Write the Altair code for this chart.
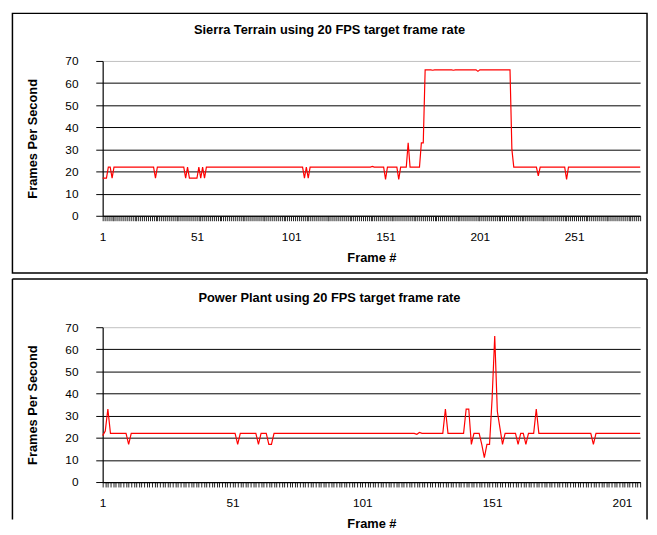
import altair as alt
import pandas as pd

FONT = "Liberation Sans"

sierra_title = "Sierra Terrain using 20 FPS target frame rate"
power_title = "Power Plant using 20 FPS target frame rate"
x_title = "Frame #"
y_title = "Frames Per Second"

fps_ticks = [0, 10, 20, 30, 40, 50, 60, 70]
sierra_labels = [1, 51, 101, 151, 201, 251]
power_labels = [1, 51, 101, 151, 201]

# Sierra Terrain: frames 1..286
sierra_fps = [
    17, 17, 17, 22, 22, 17, 22, 22, 22, 22,
    22, 22, 22, 22, 22, 22, 22, 22, 22, 22,
    22, 22, 22, 22, 22, 22, 22, 22, 17, 22,
    22, 22, 22, 22, 22, 22, 22, 22, 22, 22,
    22, 22, 22, 22, 17, 22, 17, 17, 17, 17,
    17, 22, 17, 22, 17, 22, 22, 22, 22, 22,
    22, 22, 22, 22, 22, 22, 22, 22, 22, 22,
    22, 22, 22, 22, 22, 22, 22, 22, 22, 22,
    22, 22, 22, 22, 22, 22, 22, 22, 22, 22,
    22, 22, 22, 22, 22, 22, 22, 22, 22, 22,
    22, 22, 22, 22, 22, 22, 22, 17, 22, 17,
    22, 22, 22, 22, 22, 22, 22, 22, 22, 22,
    22, 22, 22, 22, 22, 22, 22, 22, 22, 22,
    22, 22, 22, 22, 22, 22, 22, 22, 22, 22,
    22, 22, 22, 22.3, 22, 22, 22, 22, 22, 22,
    16.5, 22, 22, 22, 22, 22, 22, 16.5, 22, 22,
    22, 22, 33, 22, 22, 22, 22, 22, 22, 33,
    33, 66, 66, 66, 66, 65.8, 66, 66, 66, 66,
    66, 66, 66, 66, 66, 66, 65.8, 66, 66, 66,
    66, 66, 66, 66, 66, 66, 66, 66, 66, 65.3,
    66, 66, 66, 66, 66, 66, 66, 66, 66, 66,
    66, 66, 66, 66, 66, 66, 66, 30, 22, 22,
    22, 22, 22, 22, 22, 22, 22, 22, 22, 22,
    22, 18, 22, 22, 22, 22, 22, 22, 22, 22,
    22, 22, 22, 22, 22, 22, 16.5, 22, 22, 22,
    22, 22, 22, 22, 22, 22, 22, 22, 22, 22,
    22, 22, 22, 22, 22, 22, 22, 22, 22, 22,
    22, 22, 22, 22, 22, 22, 22, 22, 22, 22,
    22, 22, 22, 22, 22, 22,
]

# Power Plant: frames 1..208
power_fps = [
    21, 23, 33, 22, 22, 22, 22, 22, 22, 22,
    17, 22, 22, 22, 22, 22, 22, 22, 22, 22,
    22, 22, 22, 22, 22, 22, 22, 22, 22, 22,
    22, 22, 22, 22, 22, 22, 22, 22, 22, 22,
    22, 22, 22, 22, 22, 22, 22, 22, 22, 22,
    22, 22, 17, 22, 22, 22, 22, 22, 22, 22,
    17, 22, 22, 22, 17, 17, 22, 22, 22, 22,
    22, 22, 22, 22, 22, 22, 22, 22, 22, 22,
    22, 22, 22, 22, 22, 22, 22, 22, 22, 22,
    22, 22, 22, 22, 22, 22, 22, 22, 22, 22,
    22, 22, 22, 22, 22, 22, 22, 22, 22, 22,
    22, 22, 22, 22, 22, 22, 22, 22, 22, 22,
    22, 21.6, 22.4, 22, 22, 22, 22, 22, 22, 22,
    22, 22, 33, 22, 22, 22, 22, 22, 22, 22,
    33, 33, 17, 22, 22, 22, 17, 11, 17, 17,
    38, 66, 32, 24.5, 17, 22, 22, 22, 22, 22,
    17, 22, 22, 17, 22, 22, 22, 33, 22, 22,
    22, 22, 22, 22, 22, 22, 22, 22, 22, 22,
    22, 22, 22, 22, 22, 22, 22, 22, 22, 17,
    22, 22, 22, 22, 22, 22, 22, 22, 22, 22,
    22, 22, 22, 22, 22, 22, 22, 22,
]

W, H = 545, 157


def border_layers(top, bottom, closed):
    one = pd.DataFrame({"k": [0]})
    base = alt.Chart(one)
    if closed:
        return [
            base.mark_rect(fillOpacity=0, stroke="black", strokeWidth=1.5).encode(
                x=alt.value(-91.5), x2=alt.value(552), y=alt.value(top), y2=alt.value(bottom)
            )
        ]
    return [
        base.mark_rule(color="black", strokeWidth=1.5).encode(
            x=alt.value(-91.5), x2=alt.value(552), y=alt.value(top)
        ),
        base.mark_rule(color="black", strokeWidth=1.5).encode(
            x=alt.value(-91.5), y=alt.value(top), y2=alt.value(bottom)
        ),
        base.mark_rule(color="black", strokeWidth=1.5).encode(
            x=alt.value(552), y=alt.value(top), y2=alt.value(bottom)
        ),
    ]


def panel(title, fps, label_frames, border_top, border_bottom, closed, title_y):
    n = len(fps)
    frames = list(range(1, n + 1))
    df = pd.DataFrame({"frame": frames, "fps": fps})
    label_list = ",".join(str(v) for v in label_frames)

    x_axis = alt.Axis(
        values=frames,
        labelExpr=f"indexof([{label_list}], datum.value) >= 0 ? datum.label : ''",
        labelOverlap=False,
        labelFlush=False,
        labelFont=FONT,
        labelFontSize=12,
        labelColor="black",
        labelPadding=11,
        tickSize=5,
        tickColor="#222222",
        tickWidth=1,
        domainColor="black",
        domainWidth=1.2,
        grid=False,
        title=x_title,
        titleFont=FONT,
        titleFontSize=13,
        titleFontWeight="bold",
        titleColor="black",
        titlePadding=9,
    )
    y_axis = alt.Axis(
        values=fps_ticks,
        labelFont=FONT,
        labelFontSize=12,
        labelColor="black",
        labelPadding=18,
        tickSize=7,
        tickColor="black",
        domainColor="black",
        domainWidth=1.2,
        grid=True,
        gridColor={"condition": {"test": "datum.value === 70", "value": "#c0c0c0"}, "value": "#000000"},
        gridOpacity=1,
        gridWidth=1,
        title=y_title,
        titleFont=FONT,
        titleFontSize=13,
        titleFontWeight="bold",
        titleColor="black",
        titlePadding=26,
    )

    line = alt.Chart(df).mark_line(color="#ff0000", strokeWidth=1.2).encode(
        x=alt.X("frame:Q", scale=alt.Scale(domain=[1, n], nice=False, zero=False), axis=x_axis),
        y=alt.Y("fps:Q", scale=alt.Scale(domain=[0, 70], nice=False, zero=True), axis=y_axis),
    )

    title_text = alt.Chart(pd.DataFrame({"t": [title]})).mark_text(
        font=FONT, fontSize=13, fontWeight="bold", align="center", baseline="middle", color="black"
    ).encode(text="t:N", x=alt.value(230), y=alt.value(title_y))

    layers = border_layers(border_top, border_bottom, closed) + [line, title_text]
    return alt.layer(*layers).properties(width=W, height=H)


top = panel(sierra_title, sierra_fps, sierra_labels, -48.25, 215, True, -31)
bottom = panel(power_title, power_fps, power_labels, -49, 195, False, -30)

chart = (
    alt.vconcat(top, bottom, spacing=2)
    .properties(padding={"left": 3, "top": 0, "right": 0, "bottom": 0}, background="white")
    .configure_view(stroke="transparent")
)

chart.save("out.html", embed_options={"renderer": "svg", "actions": False})
